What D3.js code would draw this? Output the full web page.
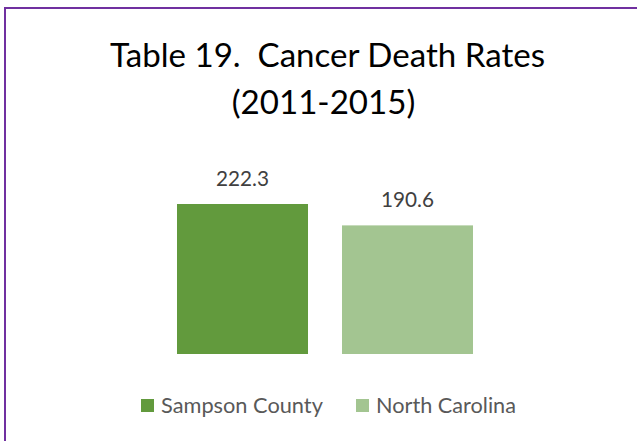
<!DOCTYPE html>
<html><head><meta charset="utf-8">
<script src="https://cdn.jsdelivr.net/npm/d3@7"></script>
<style>html,body{margin:0;padding:0;background:#fff;overflow:hidden} text{white-space:pre}</style>
</head><body>
<svg id="c" width="637" height="441"></svg>
<script>
const categories = ["Sampson County", "North Carolina"];
const values = [222.3, 190.6];
const titleLines = ["Table 19.  Cancer Death Rates", "(2011-2015)"];
const colors = ["#629A3D", "#A3C591"];

const svg = d3.select("#c");
const W = 637, H = 441;
const font = "Lato, 'Open Sans', sans-serif";

function fit(sel, target) {
  let out = 0;
  sel.each(function() {
    const n = this; const fs = +d3.select(n).attr("font-size");
    const w = n.getComputedTextLength();
    if (w > 0) { out = fs * target / w; d3.select(n).attr("font-size", out.toFixed(2)); }
  });
  return out;
}

svg.append("rect").attr("x",0).attr("y",0).attr("width",W).attr("height",H).attr("fill","#fff");
svg.append("rect").attr("x",5).attr("y",8).attr("width",W+10).attr("height",H+10)
  .attr("fill","none").attr("stroke","#7030A0").attr("stroke-width",2);

// title
const t1 = svg.append("text").attr("x",327.5).attr("y",67).attr("font-family",font)
  .attr("font-size",36).attr("fill","#000").attr("text-anchor","middle").text(titleLines[0]);
const fs1 = fit(t1, 435);
svg.append("text").attr("x",323.5).attr("y",114).attr("font-family",font)
  .attr("font-size",fs1.toFixed(2)).attr("fill","#000").attr("text-anchor","middle").text(titleLines[1]);

const x = d3.scaleBand().domain(categories).range([160, 490]).paddingInner(0.206).paddingOuter(0.103);
const y = d3.scaleLinear().domain([0, 250]).range([354, 354 - 250*150/222.3]);

svg.selectAll("rect.bar").data(categories).join("rect").attr("class","bar")
  .attr("x", d=>x(d)).attr("width", x.bandwidth())
  .attr("y", (d,i)=>y(values[i])).attr("height",(d,i)=>y(0)-y(values[i]))
  .attr("fill",(d,i)=>colors[i]);

const lbl = svg.selectAll("text.lbl").data(categories).join("text").attr("class","lbl")
  .attr("x", d=>x(d)+x.bandwidth()/2).attr("y",(d,i)=>y(values[i])-18)
  .attr("text-anchor","middle").attr("font-family",font).attr("font-size",19).attr("fill","#404040")
  .text((d,i)=>values[i].toFixed(1));
fit(lbl, 53);

// legend
const legX = [141, 356];
const lg = svg.selectAll("g.leg").data(categories).join("g").attr("class","leg")
  .attr("transform",(d,i)=>`translate(${legX[i]},399)`);
lg.append("rect").attr("width",13).attr("height",13).attr("fill",(d,i)=>colors[i]);
const lt = lg.append("text").attr("x",20).attr("y",13.5).attr("font-family",font).attr("font-size",19)
  .attr("fill","#595959").text(d=>d);
fit(lt.filter((d,i)=>i===0), 162);
fit(lt.filter((d,i)=>i===1), 140);
</script>
</body></html>
